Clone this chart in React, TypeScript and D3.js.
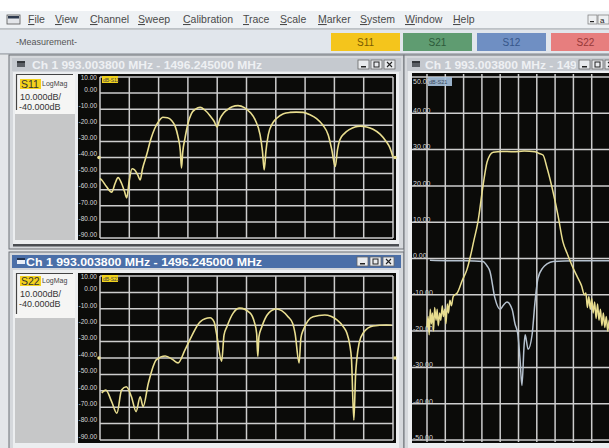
import React from 'react';
import * as d3 from 'd3';

// menu + toolbar
const menuItems = ['File', 'View', 'Channel', 'Sweep', 'Calibration', 'Trace', 'Scale', 'Marker', 'System', 'Window', 'Help'];
const menuX = [28, 55, 90, 138, 183, 243, 280, 318, 360, 405, 453];
const measNames = ['S11', 'S21', 'S12', 'S22'];
const measFill = ['#f4c51c', '#5f9c71', '#6f8fc3', '#e77e7e'];
const measInk = ['#7a5c00', '#2c5a3a', '#36568a', '#963838'];
const measX = [331, 403, 477, 551];

const startMHz = 993.0038;
const stopMHz = 1496.245;
const titleText = 'Ch 1 993.003800 MHz - 1496.245000 MHz';
const leftTicks = [10, 0, -10, -20, -30, -40, -50, -60, -70, -80, -90];
const rightTicks = [50, 40, 30, 20, 10, 0, -10, -20, -30, -40, -50];

// S11 (top left window)
const s11Freq = [993, 996, 1004, 1013, 1019, 1024, 1030, 1035, 1039, 1043, 1048, 1052, 1058, 1062, 1066, 1073, 1080, 1087, 1094, 1101, 1109, 1116, 1122, 1127, 1131, 1133, 1135, 1139, 1144, 1150, 1157, 1165, 1173, 1182, 1189, 1194, 1199, 1205, 1211, 1220, 1230, 1241, 1251, 1260, 1268, 1272, 1275, 1278, 1282, 1289, 1296, 1308, 1319, 1330, 1342, 1354, 1365, 1376, 1385, 1391, 1397, 1401, 1405, 1413, 1422, 1431, 1440, 1451, 1462, 1474, 1485, 1491, 1496];
const s11Db = [-53, -54, -58, -61.5, -56, -52.5, -56, -61, -65, -55, -47, -47.5, -51, -54, -47, -38.5, -29, -22, -17.5, -15, -15.3, -17, -20.5, -27, -36, -46.5, -37, -28, -19, -12.7, -10, -8.8, -10.5, -14, -17.5, -21, -16, -12.5, -10.5, -8.5, -7.8, -9, -12, -17, -26, -36, -47.7, -36, -26, -19, -15.8, -12.8, -12, -11.8, -12, -13.5, -15.8, -20, -26, -35, -45.6, -35, -29, -25, -22.5, -21, -20.5, -21, -22.5, -25.5, -30.3, -34, -39.5];

// S22 (bottom left window)
const s22Freq = [996, 1003, 1013, 1022, 1030, 1038, 1047, 1055, 1062, 1067, 1076, 1090, 1105, 1118, 1127, 1139, 1150, 1165, 1182, 1189, 1193, 1202, 1206, 1211, 1222, 1233, 1251, 1258, 1262, 1264, 1266, 1271, 1283, 1296, 1316, 1324, 1328, 1335, 1338, 1342, 1359, 1379, 1400, 1411, 1417, 1422, 1425, 1429, 1432, 1434, 1438, 1445, 1462, 1485, 1494];
const s22Db = [-61.3, -59.5, -66.6, -73.7, -59.5, -57.5, -63.6, -72.7, -63.6, -69.7, -55.5, -41, -38.8, -41, -43, -35, -27, -17.9, -15.5, -18, -24.8, -42, -26, -20.9, -12.5, -9.6, -12.6, -18, -24.8, -39, -27, -21, -12.5, -10.1, -14.8, -19, -24.8, -43, -28, -23, -14.8, -13.8, -16.8, -21, -24.8, -32, -41, -77.8, -50, -41, -31, -24.8, -20.5, -19.9, -20];

// S21 (right window, yellow)
const s21Freq = [993, 996, 999, 1002, 1005, 1008, 1011, 1014, 1018, 1021, 1024, 1028, 1031, 1035, 1038, 1042, 1045, 1049, 1052, 1056, 1060, 1065, 1070, 1076, 1090, 1103, 1111, 1122, 1133, 1147, 1158, 1166, 1175, 1200, 1230, 1260, 1290, 1300, 1312, 1323, 1337, 1353, 1367, 1378, 1392, 1406, 1418, 1426, 1430, 1434, 1438, 1442, 1446, 1450, 1454, 1458, 1462, 1466, 1470, 1474, 1478, 1482, 1486, 1490, 1494, 1496];
const s21Db = [-19, -16, -21, -14, -18, -15, -20, -13.5, -17, -14, -18.5, -15, -17, -13, -16, -14, -18, -12.5, -15, -11.5, -13, -10.5, -10, -9.5, -6, -3, 0, 5, 10, 20, 26.5, 28.5, 29.3, 29.5, 29.4, 29.6, 29.4, 29, 28.5, 25, 19.5, 12, 4.5, 1.5, -2, -5, -7.5, -10, -9.5, -13.5, -10.5, -14, -11, -15, -12, -16.5, -12.5, -17, -14, -18.5, -15, -19, -16, -20, -17, -19];

// S11 (right window, grey)
const s11bFreq = [1001, 1050, 1100, 1147, 1158, 1166, 1180, 1194, 1202, 1213, 1227, 1235, 1243, 1249, 1254, 1260, 1263, 1271, 1282, 1290, 1298, 1312, 1323, 1340, 1400, 1496];
const s11bDb = [-0.5, -0.6, -0.6, -0.8, -2, -3.5, -11, -14, -13, -12, -14, -18, -21, -28, -35, -24, -21, -25, -21, -12, -5.5, -2.5, -1.5, -0.8, -0.6, -0.6];

const YELLOW = '#e9de8f';
const GRID = '#cdcdcd';
const SANS = 'Liberation Sans, Arial, sans-serif';

type WinProps = { id: string; x: number; y: number; w: number; h: number; active: boolean; textX: number; textW: number; btnX: number };

function Win({ id, x, y, w, h, active, textX, textW, btnX }: WinProps) {
  const tb = active ? '#4b6fa8' : '#c5c9cf';
  return (
    <g>
      <defs>
        <clipPath id={'tc' + id}><rect x={x} y={y} width={btnX - 3 - x} height={18} /></clipPath>
      </defs>
      <rect x={x} y={y} width={w} height={h} fill="#d5d8dc" stroke="#6d7177" strokeWidth={1} />
      <rect x={x + 3} y={y + 3} width={w - 6} height={13} fill={tb} />
      <rect x={x + 8} y={y + 6} width={8} height={6} fill={active ? '#e8eef8' : '#5a5e64'} />
      <rect x={x + 8} y={y + 6} width={8} height={2} fill={active ? '#22324e' : '#33363a'} />
      <g clipPath={`url(#tc${id})`}>
        <text x={textX} y={y + 13.5} fontFamily={SANS} fontWeight="bold" fontSize={11} fill={active ? '#ffffff' : '#eef0f3'}
          textLength={textW} lengthAdjust="spacingAndGlyphs">{titleText}</text>
      </g>
      {[0, 1, 2].map(i => (
        <g key={i}>
          <rect x={btnX + i * 13} y={y + 5} width={11} height={9} fill="#e9ebee" stroke="#666" strokeWidth={0.8} />
          {i === 0 && <rect x={btnX + 3} y={y + 11} width={5} height={1.5} fill="#222" />}
          {i === 1 && <rect x={btnX + 13 + 3} y={y + 7} width={5} height={5} fill="none" stroke="#222" strokeWidth={1} />}
          {i === 2 && <path d={`M${btnX + 26 + 3},${y + 7} l5,5 M${btnX + 26 + 8},${y + 7} l-5,5`} stroke="#222" strokeWidth={1.1} />}
        </g>
      ))}
    </g>
  );
}

type LeftPlotProps = { top: number; bottom: number; gTop: number; gBot: number; name: string; freq: number[]; db: number[]; infoY: number; whiteH: number };

function LeftPlot({ top, bottom, gTop, gBot, name, freq, db, infoY, whiteH }: LeftPlotProps) {
  const x = d3.scaleLinear().domain([startMHz, stopMHz]).range([100, 393]);
  const y = d3.scaleLinear().domain([-90, 10]).range([gBot, gTop]);
  const pts = freq.map((f, i) => [f, db[i]] as [number, number]);
  const path = d3.line<[number, number]>().x(d => x(d[0])).y(d => y(d[1])).curve(d3.curveMonotoneX)(pts) || '';
  const vlines = d3.range(11).map(i => startMHz + (i * (stopMHz - startMHz)) / 10);
  return (
    <g>
      {/* info panel */}
      <rect x={15} y={top} width={60} height={whiteH} fill="#f5f5f4" />
      <rect x={15} y={top + whiteH} width={60} height={bottom - top - whiteH} fill="#c6c7c8" />
      <path d={`M16.5,${top + whiteH - 4} V${top + 0.5} H73`} stroke="#444" strokeWidth={1.2} fill="none" />
      <rect x={20} y={infoY} width={21} height={10} fill="#f3d21c" />
      <text x={21} y={infoY + 9} fontFamily={SANS} fontSize={10.5} fill="#333">{name}</text>
      <text x={42} y={infoY + 7} fontFamily={SANS} fontSize={7} fill="#444">LogMag</text>
      <text x={20} y={infoY + 21} fontFamily={SANS} fontSize={9} fill="#333">10.000dB/</text>
      <text x={19} y={infoY + 31} fontFamily={SANS} fontSize={9} fill="#333">-40.000dB</text>
      {/* black plot */}
      <rect x={78} y={top} width={318} height={bottom - top} fill="#0b0b09" />
      {leftTicks.map(t => (
        <line key={'h' + t} x1={100} x2={393} y1={y(t)} y2={y(t)} stroke={GRID} strokeWidth={1.5} />
      ))}
      {vlines.map((f, i) => (
        <line key={'v' + i} x1={x(f)} x2={x(f)} y1={gTop} y2={gBot} stroke={GRID} strokeWidth={1.5} />
      ))}
      {leftTicks.map(t => (
        <text key={'t' + t} x={97} y={Math.max(y(t) - 3, top + 4)} dominantBaseline="middle" textAnchor="end"
          fontFamily={SANS} fontSize={6.5} fill="#d8d8d8">{t.toFixed(2)}</text>
      ))}
      <rect x={102} y={gTop - 1} width={16} height={7} fill="#f0d21c" />
      <text x={103} y={gTop + 4.5} fontFamily={SANS} fontSize={5} fill="#444">{'dB-' + name}</text>
      <path d={path} fill="none" stroke={YELLOW} strokeWidth={1.6} />
      <circle cx={99} cy={y(-40)} r={1.8} fill={YELLOW} />
      <circle cx={395} cy={y(-40)} r={1.8} fill={YELLOW} />
    </g>
  );
}

function RightPlot() {
  const x = d3.scaleLinear().domain([startMHz, stopMHz]).range([427, 610]);
  const y = d3.scaleLinear().domain([-50, 50]).range([440, 77]);
  const ln = d3.line<[number, number]>().x(d => x(d[0])).y(d => y(d[1]));
  const yPath = ln.curve(d3.curveMonotoneX)(s21Freq.map((f, i) => [f, s21Db[i]] as [number, number])) || '';
  const gPath = ln.curve(d3.curveMonotoneX)(s11bFreq.map((f, i) => [f, s11bDb[i]] as [number, number])) || '';
  const vlines = d3.range(11).map(i => startMHz + (i * (stopMHz - startMHz)) / 10);
  return (
    <g>
      <defs>
        <clipPath id="rclip"><rect x={412} y={73} width={200} height={370} /></clipPath>
      </defs>
      <rect x={412} y={73} width={200} height={370} fill="#0b0b09" />
      {rightTicks.map(t => (
        <line key={'h' + t} x1={412} x2={612} y1={y(t)} y2={y(t)} stroke={GRID} strokeWidth={1.5} />
      ))}
      {vlines.map((f, i) => (
        <line key={'v' + i} x1={x(f)} x2={x(f)} y1={74} y2={442} stroke={GRID} strokeWidth={1.5} />
      ))}
      {rightTicks.map(t => (
        <text key={'t' + t} x={413} y={Math.max(y(t) - 2, 82)} dominantBaseline="middle"
          fontFamily={SANS} fontSize={7} fill="#d8d8d8">{t.toFixed(2)}</text>
      ))}
      <rect x={428} y={77} width={24} height={9} fill="#a9c3df" opacity={0.9} />
      <text x={429} y={84} fontFamily={SANS} fontSize={5.5} fill="#3a4a5c">dB-S21</text>
      <g clipPath="url(#rclip)">
        <path d={gPath} fill="none" stroke="#b6c2cf" strokeWidth={1.5} />
        <path d={yPath} fill="none" stroke={YELLOW} strokeWidth={1.5} />
      </g>
    </g>
  );
}

export default function App() {
  return (
    <div style={{ position: 'fixed', left: 0, top: 0 }}>
      <svg width={609} height={448} style={{ display: 'block' }}>
        <rect width={609} height={448} fill="#ffffff" />
        {/* menu bar */}
        <rect x={0} y={11} width={609} height={18} fill="#eef1f4" />
        <line x1={0} x2={609} y1={29} y2={29} stroke="#8d939a" strokeWidth={1} />
        <rect x={7} y={15} width={13} height={9} fill="#e4e6ea" stroke="#555" strokeWidth={0.8} />
        <rect x={8} y={16} width={11} height={2.5} fill="#2e3a4e" />
        {menuItems.map((m, i) => (
          <text key={m} x={menuX[i]} y={23} fontFamily={SANS} fontSize={10.5} fill="#4a4a4a">
            <tspan textDecoration="underline">{m[0]}</tspan>{m.slice(1)}
          </text>
        ))}
        <rect x={588} y={15} width={9} height={9} fill="#eef0f2" stroke="#777" strokeWidth={0.7} />
        <rect x={590} y={21} width={4} height={1.2} fill="#222" />
        <rect x={598} y={15} width={11} height={9} fill="#eef0f2" stroke="#777" strokeWidth={0.7} />
        <text x={600} y={23} fontFamily={SANS} fontSize={8} fill="#222">a</text>
        {/* toolbar */}
        <rect x={0} y={30} width={609} height={24} fill="#e1e6ec" />
        <line x1={0} x2={609} y1={54} y2={54} stroke="#7d838a" strokeWidth={1} />
        <text x={16} y={45} fontFamily={SANS} fontSize={9} fill="#555">-Measurement-</text>
        {measNames.map((n, i) => (
          <g key={n}>
            <rect x={measX[i]} y={33} width={69} height={18} fill={measFill[i]} />
            <text x={measX[i] + 34.5} y={45.5} textAnchor="middle" fontFamily={SANS} fontSize={10} fill={measInk[i]}>{n}</text>
          </g>
        ))}
        {/* MDI area */}
        <rect x={0} y={55} width={609} height={393} fill="#e4e6e9" />
        <Win id="a" x={9} y={55} w={395} h={194} active={false} textX={32} textW={230} btnX={358} />
        <rect x={13} y={72} width={386} height={172} fill="#eceef0" />
        <LeftPlot top={74} bottom={240} gTop={77} gBot={238} name="S11" freq={s11Freq} db={s11Db} infoY={79} whiteH={40} />
        <rect x={13} y={244} width={386} height={2.5} fill="#4a4d52" />
        <Win id="b" x={9} y={252} w={395} h={200} active={true} textX={26} textW={236} btnX={357} />
        <rect x={13} y={270} width={386} height={180} fill="#eceef0" />
        <LeftPlot top={273} bottom={443} gTop={276} gBot={440} name="S22" freq={s22Freq} db={s22Db} infoY={276} whiteH={45} />
        <Win id="c" x={404} y={55} w={212} h={400} active={false} textX={425} textW={230} btnX={579} />
        <rect x={408} y={71} width={205} height={380} fill="#eceef0" />
        <RightPlot />
      </svg>
    </div>
  );
}
